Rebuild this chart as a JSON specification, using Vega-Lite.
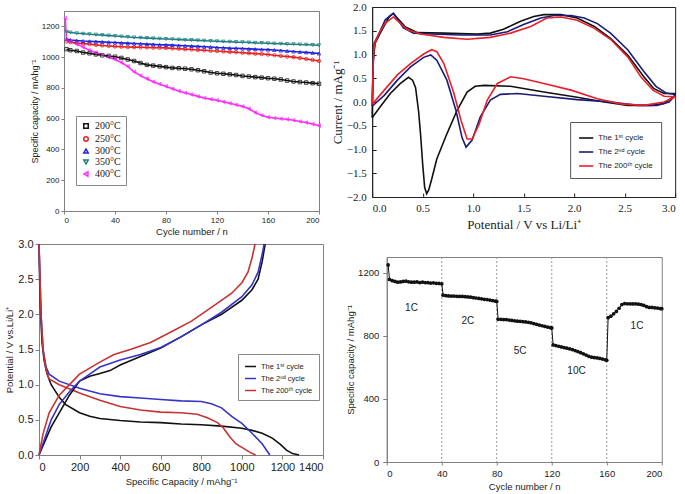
{
"$schema": "https://vega.github.io/schema/vega-lite/v6.json",
"background": "white",
"padding": {"left": 3, "top": 0, "right": 0, "bottom": 0},
"spacing": 6,
"resolve": {"scale": {"color": "independent", "shape": "independent"}, "legend": {"color": "independent", "shape": "independent"}},
"config": {
  "view": {"stroke": "#808080", "strokeWidth": 1},
  "axis": {"grid": false, "domainColor": "#808080", "tickColor": "#808080", "labelColor": "#222222", "titleColor": "#222222", "titleFontWeight": "normal", "labelFont": "Liberation Sans", "titleFont": "Liberation Sans"},
  "legend": {"labelFont": "Liberation Sans", "labelColor": "#222222"}
},
"hconcat": [
 {"spacing": 1, "resolve": {"scale": {"color": "independent", "shape": "independent"}, "legend": {"color": "independent", "shape": "independent"}}, "vconcat": [
  {"width": 1, "height": 2, "data": {"values": [{"k": 0}]}, "mark": {"type": "rect", "opacity": 0}, "encoding": {}, "view": {"stroke": null}},
  {"spacing": 0, "resolve": {"scale": {"color": "independent", "shape": "independent"}, "legend": {"color": "independent", "shape": "independent"}}, "hconcat": [
   {"width": 26, "height": 1, "data": {"values": [{"k": 0}]}, "mark": {"type": "rect", "opacity": 0}, "encoding": {}, "view": {"stroke": null}},
   {"width": 255, "height": 200,
    "data": {"values": [
{"s":"400°C","c":1,"v":1255},
{"s":"200°C","c":2,"v":1052},{"s":"200°C","c":5,"v":1045},{"s":"200°C","c":10,"v":1040},{"s":"200°C","c":15,"v":1030},{"s":"200°C","c":20,"v":1025},{"s":"200°C","c":25,"v":1018},{"s":"200°C","c":30,"v":1012},{"s":"200°C","c":35,"v":1008},{"s":"200°C","c":40,"v":1003},{"s":"200°C","c":45,"v":995},{"s":"200°C","c":50,"v":985},{"s":"200°C","c":55,"v":975},{"s":"200°C","c":60,"v":962},{"s":"200°C","c":65,"v":950},{"s":"200°C","c":70,"v":945},{"s":"200°C","c":75,"v":940},{"s":"200°C","c":80,"v":935},{"s":"200°C","c":85,"v":930},{"s":"200°C","c":90,"v":928},{"s":"200°C","c":95,"v":925},{"s":"200°C","c":100,"v":921},{"s":"200°C","c":105,"v":915},{"s":"200°C","c":110,"v":908},{"s":"200°C","c":115,"v":900},{"s":"200°C","c":120,"v":895},{"s":"200°C","c":125,"v":892},{"s":"200°C","c":130,"v":888},{"s":"200°C","c":135,"v":884},{"s":"200°C","c":140,"v":878},{"s":"200°C","c":145,"v":874},{"s":"200°C","c":150,"v":870},{"s":"200°C","c":155,"v":867},{"s":"200°C","c":160,"v":863},{"s":"200°C","c":165,"v":860},{"s":"200°C","c":170,"v":855},{"s":"200°C","c":175,"v":848},{"s":"200°C","c":180,"v":842},{"s":"200°C","c":185,"v":838},{"s":"200°C","c":190,"v":835},{"s":"200°C","c":195,"v":831},{"s":"200°C","c":200,"v":827},
{"s":"250°C","c":2,"v":1102},{"s":"250°C","c":5,"v":1098},{"s":"250°C","c":10,"v":1092},{"s":"250°C","c":15,"v":1088},{"s":"250°C","c":20,"v":1085},{"s":"250°C","c":25,"v":1080},{"s":"250°C","c":30,"v":1076},{"s":"250°C","c":35,"v":1073},{"s":"250°C","c":40,"v":1070},{"s":"250°C","c":45,"v":1068},{"s":"250°C","c":50,"v":1066},{"s":"250°C","c":55,"v":1065},{"s":"250°C","c":60,"v":1064},{"s":"250°C","c":65,"v":1063},{"s":"250°C","c":70,"v":1062},{"s":"250°C","c":75,"v":1061},{"s":"250°C","c":80,"v":1060},{"s":"250°C","c":85,"v":1057},{"s":"250°C","c":90,"v":1055},{"s":"250°C","c":95,"v":1052},{"s":"250°C","c":100,"v":1050},{"s":"250°C","c":105,"v":1047},{"s":"250°C","c":110,"v":1045},{"s":"250°C","c":115,"v":1042},{"s":"250°C","c":120,"v":1040},{"s":"250°C","c":125,"v":1037},{"s":"250°C","c":130,"v":1034},{"s":"250°C","c":135,"v":1032},{"s":"250°C","c":140,"v":1029},{"s":"250°C","c":145,"v":1026},{"s":"250°C","c":150,"v":1023},{"s":"250°C","c":155,"v":1020},{"s":"250°C","c":160,"v":1017},{"s":"250°C","c":165,"v":1012},{"s":"250°C","c":170,"v":1008},{"s":"250°C","c":175,"v":1004},{"s":"250°C","c":180,"v":1000},{"s":"250°C","c":185,"v":994},{"s":"250°C","c":190,"v":988},{"s":"250°C","c":195,"v":982},{"s":"250°C","c":200,"v":975},
{"s":"300°C","c":2,"v":1117},{"s":"300°C","c":5,"v":1112},{"s":"300°C","c":10,"v":1108},{"s":"300°C","c":15,"v":1105},{"s":"300°C","c":20,"v":1103},{"s":"300°C","c":25,"v":1101},{"s":"300°C","c":30,"v":1099},{"s":"300°C","c":35,"v":1097},{"s":"300°C","c":40,"v":1095},{"s":"300°C","c":45,"v":1093},{"s":"300°C","c":50,"v":1091},{"s":"300°C","c":55,"v":1089},{"s":"300°C","c":60,"v":1087},{"s":"300°C","c":65,"v":1085},{"s":"300°C","c":70,"v":1083},{"s":"300°C","c":75,"v":1081},{"s":"300°C","c":80,"v":1080},{"s":"300°C","c":85,"v":1078},{"s":"300°C","c":90,"v":1076},{"s":"300°C","c":95,"v":1074},{"s":"300°C","c":100,"v":1072},{"s":"300°C","c":105,"v":1070},{"s":"300°C","c":110,"v":1068},{"s":"300°C","c":115,"v":1066},{"s":"300°C","c":120,"v":1063},{"s":"300°C","c":125,"v":1061},{"s":"300°C","c":130,"v":1059},{"s":"300°C","c":135,"v":1058},{"s":"300°C","c":140,"v":1056},{"s":"300°C","c":145,"v":1054},{"s":"300°C","c":150,"v":1052},{"s":"300°C","c":155,"v":1050},{"s":"300°C","c":160,"v":1049},{"s":"300°C","c":165,"v":1046},{"s":"300°C","c":170,"v":1043},{"s":"300°C","c":175,"v":1040},{"s":"300°C","c":180,"v":1037},{"s":"300°C","c":185,"v":1034},{"s":"300°C","c":190,"v":1031},{"s":"300°C","c":195,"v":1028},{"s":"300°C","c":200,"v":1024},
{"s":"350°C","c":2,"v":1165},{"s":"350°C","c":5,"v":1160},{"s":"350°C","c":10,"v":1155},{"s":"350°C","c":15,"v":1152},{"s":"350°C","c":20,"v":1149},{"s":"350°C","c":25,"v":1146},{"s":"350°C","c":30,"v":1143},{"s":"350°C","c":35,"v":1140},{"s":"350°C","c":40,"v":1137},{"s":"350°C","c":45,"v":1134},{"s":"350°C","c":50,"v":1131},{"s":"350°C","c":55,"v":1128},{"s":"350°C","c":60,"v":1126},{"s":"350°C","c":65,"v":1124},{"s":"350°C","c":70,"v":1122},{"s":"350°C","c":75,"v":1120},{"s":"350°C","c":80,"v":1118},{"s":"350°C","c":85,"v":1116},{"s":"350°C","c":90,"v":1114},{"s":"350°C","c":95,"v":1112},{"s":"350°C","c":100,"v":1111},{"s":"350°C","c":105,"v":1109},{"s":"350°C","c":110,"v":1107},{"s":"350°C","c":115,"v":1105},{"s":"350°C","c":120,"v":1103},{"s":"350°C","c":125,"v":1101},{"s":"350°C","c":130,"v":1100},{"s":"350°C","c":135,"v":1098},{"s":"350°C","c":140,"v":1097},{"s":"350°C","c":145,"v":1095},{"s":"350°C","c":150,"v":1093},{"s":"350°C","c":155,"v":1092},{"s":"350°C","c":160,"v":1090},{"s":"350°C","c":165,"v":1088},{"s":"350°C","c":170,"v":1087},{"s":"350°C","c":175,"v":1085},{"s":"350°C","c":180,"v":1084},{"s":"350°C","c":185,"v":1082},{"s":"350°C","c":190,"v":1081},{"s":"350°C","c":195,"v":1079},{"s":"350°C","c":200,"v":1077},
{"s":"400°C","c":2,"v":1112},{"s":"400°C","c":5,"v":1100},{"s":"400°C","c":10,"v":1085},{"s":"400°C","c":15,"v":1065},{"s":"400°C","c":20,"v":1045},{"s":"400°C","c":25,"v":1030},{"s":"400°C","c":30,"v":1015},{"s":"400°C","c":35,"v":1000},{"s":"400°C","c":40,"v":985},{"s":"400°C","c":45,"v":965},{"s":"400°C","c":50,"v":940},{"s":"400°C","c":55,"v":905},{"s":"400°C","c":60,"v":880},{"s":"400°C","c":65,"v":860},{"s":"400°C","c":70,"v":840},{"s":"400°C","c":75,"v":825},{"s":"400°C","c":80,"v":810},{"s":"400°C","c":85,"v":795},{"s":"400°C","c":90,"v":780},{"s":"400°C","c":95,"v":768},{"s":"400°C","c":100,"v":757},{"s":"400°C","c":105,"v":745},{"s":"400°C","c":110,"v":735},{"s":"400°C","c":115,"v":727},{"s":"400°C","c":120,"v":720},{"s":"400°C","c":125,"v":710},{"s":"400°C","c":130,"v":700},{"s":"400°C","c":135,"v":690},{"s":"400°C","c":140,"v":680},{"s":"400°C","c":145,"v":665},{"s":"400°C","c":150,"v":640},{"s":"400°C","c":155,"v":622},{"s":"400°C","c":160,"v":610},{"s":"400°C","c":165,"v":604},{"s":"400°C","c":170,"v":600},{"s":"400°C","c":175,"v":596},{"s":"400°C","c":180,"v":590},{"s":"400°C","c":185,"v":582},{"s":"400°C","c":190,"v":575},{"s":"400°C","c":195,"v":565},{"s":"400°C","c":200,"v":555}
    ]},
    "encoding": {
     "x": {"field": "c", "type": "quantitative", "scale": {"domain": [0, 200], "nice": false}, "axis": {"values": [0, 40, 80, 120, 160, 200], "format": "d", "title": "Cycle number / n", "labelFontSize": 8, "titleFontSize": 9.5, "tickSize": 3, "labelPadding": 2, "titlePadding": 2}},
     "y": {"field": "v", "type": "quantitative", "scale": {"domain": [0, 1300], "nice": false}, "axis": {"values": [0, 200, 400, 600, 800, 1000, 1200], "format": "d", "title": "Specific capacity / mAhg⁻¹", "labelFontSize": 8, "titleFontSize": 9, "tickSize": 3, "labelPadding": 2, "titlePadding": 2}},
     "color": {"field": "s", "type": "nominal", "scale": {"domain": ["200°C", "250°C", "300°C", "350°C", "400°C"], "range": ["#111111", "#e8201e", "#1e22e0", "#1e8080", "#ff2cff"]}, "legend": {"title": null, "orient": "none", "legendX": 12, "legendY": 105, "strokeColor": "#888888", "fillColor": "white", "padding": 5, "labelFont": "Liberation Serif", "labelFontSize": 10, "symbolSize": 20, "rowPadding": 1}}
    },
    "layer": [
     {"mark": {"type": "line", "strokeWidth": 1.6}},
     {"mark": {"type": "point", "filled": false, "size": 12, "strokeWidth": 0.8, "opacity": 1}, "encoding": {
       "shape": {"field": "s", "type": "nominal", "scale": {"domain": ["200°C", "250°C", "300°C", "350°C", "400°C"], "range": ["square", "circle", "triangle-up", "triangle-down", "triangle-left"]}, "legend": {"title": null, "orient": "none", "legendX": 12, "legendY": 105, "strokeColor": "#888888", "fillColor": "white", "padding": 5, "labelFont": "Liberation Serif", "labelFontSize": 10, "symbolSize": 20, "rowPadding": 1}}
     }}
    ]
   }
  ]},
  {"spacing": 0, "resolve": {"scale": {"color": "independent"}, "legend": {"color": "independent"}}, "hconcat": [
   {"width": 1, "height": 1, "data": {"values": [{"k": 0}]}, "mark": {"type": "rect", "opacity": 0}, "encoding": {}, "view": {"stroke": null}},
   {"width": 284, "height": 211,
   "data": {"values": [
{"k":"The 1ˢᵗ cycle","b":"d","q":0,"v":3.0},{"k":"The 1ˢᵗ cycle","b":"d","q":3,"v":2.5},{"k":"The 1ˢᵗ cycle","b":"d","q":8,"v":2.0},{"k":"The 1ˢᵗ cycle","b":"d","q":15,"v":1.6},{"k":"The 1ˢᵗ cycle","b":"d","q":25,"v":1.35},{"k":"The 1ˢᵗ cycle","b":"d","q":40,"v":1.15},{"k":"The 1ˢᵗ cycle","b":"d","q":60,"v":1.0},{"k":"The 1ˢᵗ cycle","b":"d","q":100,"v":0.82},{"k":"The 1ˢᵗ cycle","b":"d","q":130,"v":0.72},{"k":"The 1ˢᵗ cycle","b":"d","q":200,"v":0.6},{"k":"The 1ˢᵗ cycle","b":"d","q":250,"v":0.55},{"k":"The 1ˢᵗ cycle","b":"d","q":300,"v":0.52},{"k":"The 1ˢᵗ cycle","b":"d","q":400,"v":0.49},{"k":"The 1ˢᵗ cycle","b":"d","q":500,"v":0.47},{"k":"The 1ˢᵗ cycle","b":"d","q":600,"v":0.46},{"k":"The 1ˢᵗ cycle","b":"d","q":700,"v":0.44},{"k":"The 1ˢᵗ cycle","b":"d","q":800,"v":0.43},{"k":"The 1ˢᵗ cycle","b":"d","q":900,"v":0.41},{"k":"The 1ˢᵗ cycle","b":"d","q":1000,"v":0.38},{"k":"The 1ˢᵗ cycle","b":"d","q":1050,"v":0.35},{"k":"The 1ˢᵗ cycle","b":"d","q":1100,"v":0.31},{"k":"The 1ˢᵗ cycle","b":"d","q":1150,"v":0.24},{"k":"The 1ˢᵗ cycle","b":"d","q":1190,"v":0.15},{"k":"The 1ˢᵗ cycle","b":"d","q":1220,"v":0.07},{"k":"The 1ˢᵗ cycle","b":"d","q":1250,"v":0.02},{"k":"The 1ˢᵗ cycle","b":"d","q":1282,"v":0.0},
{"k":"The 2ⁿᵈ cycle","b":"d","q":0,"v":3.0},{"k":"The 2ⁿᵈ cycle","b":"d","q":5,"v":2.5},{"k":"The 2ⁿᵈ cycle","b":"d","q":10,"v":2.0},{"k":"The 2ⁿᵈ cycle","b":"d","q":20,"v":1.5},{"k":"The 2ⁿᵈ cycle","b":"d","q":35,"v":1.25},{"k":"The 2ⁿᵈ cycle","b":"d","q":50,"v":1.15},{"k":"The 2ⁿᵈ cycle","b":"d","q":100,"v":1.05},{"k":"The 2ⁿᵈ cycle","b":"d","q":200,"v":0.95},{"k":"The 2ⁿᵈ cycle","b":"d","q":300,"v":0.87},{"k":"The 2ⁿᵈ cycle","b":"d","q":400,"v":0.83},{"k":"The 2ⁿᵈ cycle","b":"d","q":500,"v":0.81},{"k":"The 2ⁿᵈ cycle","b":"d","q":600,"v":0.79},{"k":"The 2ⁿᵈ cycle","b":"d","q":700,"v":0.77},{"k":"The 2ⁿᵈ cycle","b":"d","q":800,"v":0.76},{"k":"The 2ⁿᵈ cycle","b":"d","q":850,"v":0.73},{"k":"The 2ⁿᵈ cycle","b":"d","q":900,"v":0.67},{"k":"The 2ⁿᵈ cycle","b":"d","q":950,"v":0.55},{"k":"The 2ⁿᵈ cycle","b":"d","q":1000,"v":0.45},{"k":"The 2ⁿᵈ cycle","b":"d","q":1050,"v":0.31},{"k":"The 2ⁿᵈ cycle","b":"d","q":1100,"v":0.16},{"k":"The 2ⁿᵈ cycle","b":"d","q":1138,"v":0.0},
{"k":"The 200ᵗʰ cycle","b":"d","q":0,"v":3.0},{"k":"The 200ᵗʰ cycle","b":"d","q":5,"v":2.5},{"k":"The 200ᵗʰ cycle","b":"d","q":10,"v":2.0},{"k":"The 200ᵗʰ cycle","b":"d","q":20,"v":1.5},{"k":"The 200ᵗʰ cycle","b":"d","q":35,"v":1.2},{"k":"The 200ᵗʰ cycle","b":"d","q":50,"v":1.08},{"k":"The 200ᵗʰ cycle","b":"d","q":100,"v":1.0},{"k":"The 200ᵗʰ cycle","b":"d","q":200,"v":0.88},{"k":"The 200ᵗʰ cycle","b":"d","q":300,"v":0.78},{"k":"The 200ᵗʰ cycle","b":"d","q":400,"v":0.69},{"k":"The 200ᵗʰ cycle","b":"d","q":500,"v":0.64},{"k":"The 200ᵗʰ cycle","b":"d","q":600,"v":0.61},{"k":"The 200ᵗʰ cycle","b":"d","q":700,"v":0.6},{"k":"The 200ᵗʰ cycle","b":"d","q":780,"v":0.58},{"k":"The 200ᵗʰ cycle","b":"d","q":830,"v":0.53},{"k":"The 200ᵗʰ cycle","b":"d","q":880,"v":0.46},{"k":"The 200ᵗʰ cycle","b":"d","q":910,"v":0.38},{"k":"The 200ᵗʰ cycle","b":"d","q":940,"v":0.26},{"k":"The 200ᵗʰ cycle","b":"d","q":970,"v":0.16},{"k":"The 200ᵗʰ cycle","b":"d","q":1010,"v":0.09},{"k":"The 200ᵗʰ cycle","b":"d","q":1045,"v":0.03},{"k":"The 200ᵗʰ cycle","b":"d","q":1068,"v":0.0},
{"k":"The 1ˢᵗ cycle","b":"c","q":0,"v":0.0},{"k":"The 1ˢᵗ cycle","b":"c","q":30,"v":0.2},{"k":"The 1ˢᵗ cycle","b":"c","q":60,"v":0.4},{"k":"The 1ˢᵗ cycle","b":"c","q":100,"v":0.6},{"k":"The 1ˢᵗ cycle","b":"c","q":150,"v":0.85},{"k":"The 1ˢᵗ cycle","b":"c","q":200,"v":1.05},{"k":"The 1ˢᵗ cycle","b":"c","q":250,"v":1.12},{"k":"The 1ˢᵗ cycle","b":"c","q":300,"v":1.16},{"k":"The 1ˢᵗ cycle","b":"c","q":350,"v":1.2},{"k":"The 1ˢᵗ cycle","b":"c","q":400,"v":1.28},{"k":"The 1ˢᵗ cycle","b":"c","q":500,"v":1.4},{"k":"The 1ˢᵗ cycle","b":"c","q":600,"v":1.52},{"k":"The 1ˢᵗ cycle","b":"c","q":700,"v":1.68},{"k":"The 1ˢᵗ cycle","b":"c","q":800,"v":1.85},{"k":"The 1ˢᵗ cycle","b":"c","q":900,"v":2.0},{"k":"The 1ˢᵗ cycle","b":"c","q":1000,"v":2.2},{"k":"The 1ˢᵗ cycle","b":"c","q":1050,"v":2.35},{"k":"The 1ˢᵗ cycle","b":"c","q":1080,"v":2.5},{"k":"The 1ˢᵗ cycle","b":"c","q":1100,"v":2.75},{"k":"The 1ˢᵗ cycle","b":"c","q":1115,"v":3.0},
{"k":"The 2ⁿᵈ cycle","b":"c","q":0,"v":0.0},{"k":"The 2ⁿᵈ cycle","b":"c","q":30,"v":0.25},{"k":"The 2ⁿᵈ cycle","b":"c","q":60,"v":0.5},{"k":"The 2ⁿᵈ cycle","b":"c","q":100,"v":0.72},{"k":"The 2ⁿᵈ cycle","b":"c","q":150,"v":0.9},{"k":"The 2ⁿᵈ cycle","b":"c","q":200,"v":1.05},{"k":"The 2ⁿᵈ cycle","b":"c","q":250,"v":1.15},{"k":"The 2ⁿᵈ cycle","b":"c","q":300,"v":1.25},{"k":"The 2ⁿᵈ cycle","b":"c","q":400,"v":1.35},{"k":"The 2ⁿᵈ cycle","b":"c","q":500,"v":1.43},{"k":"The 2ⁿᵈ cycle","b":"c","q":600,"v":1.53},{"k":"The 2ⁿᵈ cycle","b":"c","q":700,"v":1.68},{"k":"The 2ⁿᵈ cycle","b":"c","q":800,"v":1.85},{"k":"The 2ⁿᵈ cycle","b":"c","q":900,"v":2.03},{"k":"The 2ⁿᵈ cycle","b":"c","q":1000,"v":2.25},{"k":"The 2ⁿᵈ cycle","b":"c","q":1050,"v":2.42},{"k":"The 2ⁿᵈ cycle","b":"c","q":1080,"v":2.6},{"k":"The 2ⁿᵈ cycle","b":"c","q":1100,"v":2.85},{"k":"The 2ⁿᵈ cycle","b":"c","q":1110,"v":3.0},
{"k":"The 200ᵗʰ cycle","b":"c","q":0,"v":0.0},{"k":"The 200ᵗʰ cycle","b":"c","q":20,"v":0.3},{"k":"The 200ᵗʰ cycle","b":"c","q":50,"v":0.6},{"k":"The 200ᵗʰ cycle","b":"c","q":100,"v":0.85},{"k":"The 200ᵗʰ cycle","b":"c","q":150,"v":1.0},{"k":"The 200ᵗʰ cycle","b":"c","q":200,"v":1.15},{"k":"The 200ᵗʰ cycle","b":"c","q":300,"v":1.32},{"k":"The 200ᵗʰ cycle","b":"c","q":370,"v":1.43},{"k":"The 200ᵗʰ cycle","b":"c","q":450,"v":1.5},{"k":"The 200ᵗʰ cycle","b":"c","q":550,"v":1.6},{"k":"The 200ᵗʰ cycle","b":"c","q":650,"v":1.75},{"k":"The 200ᵗʰ cycle","b":"c","q":750,"v":1.9},{"k":"The 200ᵗʰ cycle","b":"c","q":850,"v":2.1},{"k":"The 200ᵗʰ cycle","b":"c","q":950,"v":2.3},{"k":"The 200ᵗʰ cycle","b":"c","q":1000,"v":2.45},{"k":"The 200ᵗʰ cycle","b":"c","q":1030,"v":2.6},{"k":"The 200ᵗʰ cycle","b":"c","q":1050,"v":2.8},{"k":"The 200ᵗʰ cycle","b":"c","q":1065,"v":3.0}
   ]},
   "mark": {"type": "line", "strokeWidth": 1.6},
   "encoding": {
    "x": {"field": "q", "type": "quantitative", "scale": {"domain": [0, 1400], "nice": false}, "axis": {"values": [0, 200, 400, 600, 800, 1000, 1200, 1400], "format": "d", "title": "Specific Capacity / mAhg⁻¹", "labelFontSize": 11, "titleFontSize": 9.5, "tickSize": 4, "labelPadding": 2, "titlePadding": 4}},
    "y": {"field": "v", "type": "quantitative", "scale": {"domain": [0, 3], "nice": false}, "axis": {"values": [0, 0.5, 1, 1.5, 2, 2.5, 3], "format": ".1f", "title": "Potential / V vs.Li/Li⁺", "labelFontSize": 11, "titleFontSize": 9.5, "tickSize": 4, "labelPadding": 2, "titlePadding": 3}},
    "color": {"field": "k", "type": "nominal", "scale": {"domain": ["The 1ˢᵗ cycle", "The 2ⁿᵈ cycle", "The 200ᵗʰ cycle"], "range": ["#111111", "#3535c8", "#c83232"]}, "legend": {"title": null, "orient": "none", "legendX": 199, "legendY": 110, "strokeColor": "#888888", "fillColor": "white", "padding": 6, "labelFontSize": 7.5, "symbolType": "stroke", "symbolStrokeWidth": 1.5, "symbolSize": 120, "rowPadding": 2}},
    "detail": {"field": "b"},
    "order": {"field": "q", "type": "quantitative"}
   }
  }
  ]}
 ]},
 {"spacing": 24, "center": true, "resolve": {"scale": {"color": "independent"}, "legend": {"color": "independent"}}, "vconcat": [
  {"width": 303, "height": 190,
   "view": {"stroke": "#222222"},
   "data": {"values": [
{"k":"The 1ˢᵗ cycle","i":0,"p":0.0,"c":-0.33},{"k":"The 1ˢᵗ cycle","i":1,"p":0.08,"c":-0.1},{"k":"The 1ˢᵗ cycle","i":2,"p":0.18,"c":0.18},{"k":"The 1ˢᵗ cycle","i":3,"p":0.28,"c":0.39},{"k":"The 1ˢᵗ cycle","i":4,"p":0.36,"c":0.52},{"k":"The 1ˢᵗ cycle","i":5,"p":0.4,"c":0.46},{"k":"The 1ˢᵗ cycle","i":6,"p":0.43,"c":0.3},{"k":"The 1ˢᵗ cycle","i":7,"p":0.46,"c":-0.2},{"k":"The 1ˢᵗ cycle","i":8,"p":0.48,"c":-0.7},{"k":"The 1ˢᵗ cycle","i":9,"p":0.5,"c":-1.3},{"k":"The 1ˢᵗ cycle","i":10,"p":0.52,"c":-1.8},{"k":"The 1ˢᵗ cycle","i":11,"p":0.54,"c":-1.93},{"k":"The 1ˢᵗ cycle","i":12,"p":0.56,"c":-1.85},{"k":"The 1ˢᵗ cycle","i":13,"p":0.59,"c":-1.62},{"k":"The 1ˢᵗ cycle","i":14,"p":0.64,"c":-1.2},{"k":"The 1ˢᵗ cycle","i":15,"p":0.74,"c":-0.67},{"k":"The 1ˢᵗ cycle","i":16,"p":0.84,"c":-0.18},{"k":"The 1ˢᵗ cycle","i":17,"p":0.94,"c":0.21},{"k":"The 1ˢᵗ cycle","i":18,"p":1.02,"c":0.33},{"k":"The 1ˢᵗ cycle","i":19,"p":1.11,"c":0.35},{"k":"The 1ˢᵗ cycle","i":20,"p":1.37,"c":0.33},{"k":"The 1ˢᵗ cycle","i":21,"p":1.7,"c":0.21},{"k":"The 1ˢᵗ cycle","i":22,"p":2.03,"c":0.1},{"k":"The 1ˢᵗ cycle","i":23,"p":2.3,"c":0.0},{"k":"The 1ˢᵗ cycle","i":24,"p":2.53,"c":-0.07},{"k":"The 1ˢᵗ cycle","i":25,"p":2.76,"c":-0.07},{"k":"The 1ˢᵗ cycle","i":26,"p":2.89,"c":-0.03},{"k":"The 1ˢᵗ cycle","i":27,"p":3.0,"c":0.14},{"k":"The 1ˢᵗ cycle","i":28,"p":3.0,"c":0.18},{"k":"The 1ˢᵗ cycle","i":29,"p":2.89,"c":0.18},{"k":"The 1ˢᵗ cycle","i":30,"p":2.79,"c":0.28},{"k":"The 1ˢᵗ cycle","i":31,"p":2.69,"c":0.53},{"k":"The 1ˢᵗ cycle","i":32,"p":2.53,"c":0.99},{"k":"The 1ˢᵗ cycle","i":33,"p":2.36,"c":1.34},{"k":"The 1ˢᵗ cycle","i":34,"p":2.2,"c":1.59},{"k":"The 1ˢᵗ cycle","i":35,"p":2.03,"c":1.77},{"k":"The 1ˢᵗ cycle","i":36,"p":1.87,"c":1.84},{"k":"The 1ˢᵗ cycle","i":37,"p":1.7,"c":1.84},{"k":"The 1ˢᵗ cycle","i":38,"p":1.6,"c":1.8},{"k":"The 1ˢᵗ cycle","i":39,"p":1.47,"c":1.7},{"k":"The 1ˢᵗ cycle","i":40,"p":1.3,"c":1.53},{"k":"The 1ˢᵗ cycle","i":41,"p":1.17,"c":1.45},{"k":"The 1ˢᵗ cycle","i":42,"p":1.04,"c":1.43},{"k":"The 1ˢᵗ cycle","i":43,"p":0.71,"c":1.45},{"k":"The 1ˢᵗ cycle","i":44,"p":0.45,"c":1.46},{"k":"The 1ˢᵗ cycle","i":45,"p":0.33,"c":1.58},{"k":"The 1ˢᵗ cycle","i":46,"p":0.21,"c":1.86},{"k":"The 1ˢᵗ cycle","i":47,"p":0.17,"c":1.8},{"k":"The 1ˢᵗ cycle","i":48,"p":0.08,"c":1.45},{"k":"The 1ˢᵗ cycle","i":49,"p":0.03,"c":1.24},{"k":"The 1ˢᵗ cycle","i":50,"p":0.01,"c":0.88},{"k":"The 1ˢᵗ cycle","i":51,"p":0.0,"c":-0.33},
{"k":"The 2ⁿᵈ cycle","i":0,"p":0.0,"c":-0.09},{"k":"The 2ⁿᵈ cycle","i":1,"p":0.12,"c":0.14},{"k":"The 2ⁿᵈ cycle","i":2,"p":0.25,"c":0.46},{"k":"The 2ⁿᵈ cycle","i":3,"p":0.38,"c":0.74},{"k":"The 2ⁿᵈ cycle","i":4,"p":0.51,"c":0.94},{"k":"The 2ⁿᵈ cycle","i":5,"p":0.58,"c":0.99},{"k":"The 2ⁿᵈ cycle","i":6,"p":0.64,"c":0.88},{"k":"The 2ⁿᵈ cycle","i":7,"p":0.74,"c":0.46},{"k":"The 2ⁿᵈ cycle","i":8,"p":0.83,"c":-0.18},{"k":"The 2ⁿᵈ cycle","i":9,"p":0.89,"c":-0.75},{"k":"The 2ⁿᵈ cycle","i":10,"p":0.93,"c":-0.95},{"k":"The 2ⁿᵈ cycle","i":11,"p":0.99,"c":-0.8},{"k":"The 2ⁿᵈ cycle","i":12,"p":1.07,"c":-0.32},{"k":"The 2ⁿᵈ cycle","i":13,"p":1.17,"c":0.04},{"k":"The 2ⁿᵈ cycle","i":14,"p":1.27,"c":0.16},{"k":"The 2ⁿᵈ cycle","i":15,"p":1.44,"c":0.18},{"k":"The 2ⁿᵈ cycle","i":16,"p":1.7,"c":0.12},{"k":"The 2ⁿᵈ cycle","i":17,"p":2.03,"c":0.05},{"k":"The 2ⁿᵈ cycle","i":18,"p":2.36,"c":0.0},{"k":"The 2ⁿᵈ cycle","i":19,"p":2.63,"c":-0.07},{"k":"The 2ⁿᵈ cycle","i":20,"p":2.82,"c":-0.07},{"k":"The 2ⁿᵈ cycle","i":21,"p":2.94,"c":0.0},{"k":"The 2ⁿᵈ cycle","i":22,"p":3.0,"c":0.14},{"k":"The 2ⁿᵈ cycle","i":23,"p":3.0,"c":0.16},{"k":"The 2ⁿᵈ cycle","i":24,"p":2.91,"c":0.19},{"k":"The 2ⁿᵈ cycle","i":25,"p":2.81,"c":0.33},{"k":"The 2ⁿᵈ cycle","i":26,"p":2.69,"c":0.64},{"k":"The 2ⁿᵈ cycle","i":27,"p":2.53,"c":1.1},{"k":"The 2ⁿᵈ cycle","i":28,"p":2.36,"c":1.45},{"k":"The 2ⁿᵈ cycle","i":29,"p":2.23,"c":1.65},{"k":"The 2ⁿᵈ cycle","i":30,"p":2.1,"c":1.77},{"k":"The 2ⁿᵈ cycle","i":31,"p":1.97,"c":1.82},{"k":"The 2ⁿᵈ cycle","i":32,"p":1.8,"c":1.82},{"k":"The 2ⁿᵈ cycle","i":33,"p":1.67,"c":1.77},{"k":"The 2ⁿᵈ cycle","i":34,"p":1.5,"c":1.63},{"k":"The 2ⁿᵈ cycle","i":35,"p":1.34,"c":1.48},{"k":"The 2ⁿᵈ cycle","i":36,"p":1.17,"c":1.41},{"k":"The 2ⁿᵈ cycle","i":37,"p":0.88,"c":1.41},{"k":"The 2ⁿᵈ cycle","i":38,"p":0.58,"c":1.43},{"k":"The 2ⁿᵈ cycle","i":39,"p":0.41,"c":1.45},{"k":"The 2ⁿᵈ cycle","i":40,"p":0.31,"c":1.56},{"k":"The 2ⁿᵈ cycle","i":41,"p":0.21,"c":1.87},{"k":"The 2ⁿᵈ cycle","i":42,"p":0.13,"c":1.73},{"k":"The 2ⁿᵈ cycle","i":43,"p":0.07,"c":1.45},{"k":"The 2ⁿᵈ cycle","i":44,"p":0.02,"c":1.24},{"k":"The 2ⁿᵈ cycle","i":45,"p":0.01,"c":0.81},{"k":"The 2ⁿᵈ cycle","i":46,"p":0.0,"c":-0.09},
{"k":"The 200ᵗʰ cycle","i":0,"p":0.0,"c":-0.05},{"k":"The 200ᵗʰ cycle","i":1,"p":0.12,"c":0.25},{"k":"The 200ᵗʰ cycle","i":2,"p":0.25,"c":0.57},{"k":"The 200ᵗʰ cycle","i":3,"p":0.38,"c":0.81},{"k":"The 200ᵗʰ cycle","i":4,"p":0.51,"c":1.01},{"k":"The 200ᵗʰ cycle","i":5,"p":0.59,"c":1.1},{"k":"The 200ᵗʰ cycle","i":6,"p":0.64,"c":1.06},{"k":"The 200ᵗʰ cycle","i":7,"p":0.71,"c":0.81},{"k":"The 200ᵗʰ cycle","i":8,"p":0.81,"c":0.18},{"k":"The 200ᵗʰ cycle","i":9,"p":0.88,"c":-0.39},{"k":"The 200ᵗʰ cycle","i":10,"p":0.94,"c":-0.78},{"k":"The 200ᵗʰ cycle","i":11,"p":0.99,"c":-0.78},{"k":"The 200ᵗʰ cycle","i":12,"p":1.06,"c":-0.46},{"k":"The 200ᵗʰ cycle","i":13,"p":1.14,"c":0.04},{"k":"The 200ᵗʰ cycle","i":14,"p":1.24,"c":0.39},{"k":"The 200ᵗʰ cycle","i":15,"p":1.37,"c":0.53},{"k":"The 200ᵗʰ cycle","i":16,"p":1.5,"c":0.49},{"k":"The 200ᵗʰ cycle","i":17,"p":1.7,"c":0.39},{"k":"The 200ᵗʰ cycle","i":18,"p":1.97,"c":0.25},{"k":"The 200ᵗʰ cycle","i":19,"p":2.23,"c":0.07},{"k":"The 200ᵗʰ cycle","i":20,"p":2.46,"c":-0.04},{"k":"The 200ᵗʰ cycle","i":21,"p":2.69,"c":-0.07},{"k":"The 200ᵗʰ cycle","i":22,"p":2.89,"c":0.0},{"k":"The 200ᵗʰ cycle","i":23,"p":3.0,"c":0.11},{"k":"The 200ᵗʰ cycle","i":24,"p":2.89,"c":0.12},{"k":"The 200ᵗʰ cycle","i":25,"p":2.78,"c":0.25},{"k":"The 200ᵗʰ cycle","i":26,"p":2.66,"c":0.53},{"k":"The 200ᵗʰ cycle","i":27,"p":2.53,"c":0.95},{"k":"The 200ᵗʰ cycle","i":28,"p":2.36,"c":1.32},{"k":"The 200ᵗʰ cycle","i":29,"p":2.2,"c":1.55},{"k":"The 200ᵗʰ cycle","i":30,"p":2.03,"c":1.72},{"k":"The 200ᵗʰ cycle","i":31,"p":1.87,"c":1.79},{"k":"The 200ᵗʰ cycle","i":32,"p":1.73,"c":1.77},{"k":"The 200ᵗʰ cycle","i":33,"p":1.57,"c":1.59},{"k":"The 200ᵗʰ cycle","i":34,"p":1.37,"c":1.45},{"k":"The 200ᵗʰ cycle","i":35,"p":1.17,"c":1.36},{"k":"The 200ᵗʰ cycle","i":36,"p":0.94,"c":1.32},{"k":"The 200ᵗʰ cycle","i":37,"p":0.71,"c":1.36},{"k":"The 200ᵗʰ cycle","i":38,"p":0.48,"c":1.43},{"k":"The 200ᵗʰ cycle","i":39,"p":0.35,"c":1.52},{"k":"The 200ᵗʰ cycle","i":40,"p":0.21,"c":1.79},{"k":"The 200ᵗʰ cycle","i":41,"p":0.13,"c":1.66},{"k":"The 200ᵗʰ cycle","i":42,"p":0.07,"c":1.45},{"k":"The 200ᵗʰ cycle","i":43,"p":0.02,"c":1.2},{"k":"The 200ᵗʰ cycle","i":44,"p":0.01,"c":0.74},{"k":"The 200ᵗʰ cycle","i":45,"p":0.0,"c":-0.05}
   ]},
   "mark": {"type": "line", "strokeWidth": 1.6},
   "encoding": {
    "x": {"field": "p", "type": "quantitative", "scale": {"domain": [0, 3], "nice": false}, "axis": {"values": [0, 0.5, 1, 1.5, 2, 2.5, 3], "format": ".1f", "title": "Potential / V vs Li/Li⁺", "labelFont": "Liberation Serif", "titleFont": "Liberation Serif", "labelFontSize": 11, "titleFontSize": 13, "domainColor": "#222222", "tickColor": "#222222", "tickSize": -4, "labelPadding": 9, "titlePadding": 5}},
    "y": {"field": "c", "type": "quantitative", "scale": {"domain": [-2, 2], "nice": false}, "axis": {"values": [-2, -1.5, -1, -0.5, 0, 0.5, 1, 1.5, 2], "format": ".1f", "title": "Current / mAg⁻¹", "labelFont": "Liberation Serif", "titleFont": "Liberation Serif", "labelFontSize": 11, "titleFontSize": 13, "domainColor": "#222222", "tickColor": "#222222", "tickSize": -4, "labelPadding": 10, "titlePadding": 2}},
    "color": {"field": "k", "type": "nominal", "scale": {"domain": ["The 1ˢᵗ cycle", "The 2ⁿᵈ cycle", "The 200ᵗʰ cycle"], "range": ["#111111", "#1c1c78", "#e8202a"]}, "legend": {"title": null, "orient": "none", "legendX": 198, "legendY": 115, "strokeColor": "#555555", "fillColor": "white", "padding": 8, "labelFontSize": 8, "symbolType": "stroke", "symbolStrokeWidth": 1.6, "symbolSize": 200, "rowPadding": 2}},
    "order": {"field": "i", "type": "quantitative"}
   }
  },
  {"width": 275, "height": 205,
   "layer": [
    {"data": {"values": [{"x": 40}, {"x": 80}, {"x": 120}, {"x": 160}]},
     "mark": {"type": "rule", "color": "#999999", "strokeDash": [2, 2], "strokeWidth": 1},
     "encoding": {"x": {"field": "x", "type": "quantitative", "scale": {"domain": [0, 200], "nice": false}}}},
    {"data": {"values": [
{"c":1,"v":1250},{"c":2,"v":1158},{"c":4,"v":1150},{"c":6,"v":1145},{"c":8,"v":1140},{"c":10,"v":1142},{"c":12,"v":1145},{"c":14,"v":1147},{"c":16,"v":1143},{"c":18,"v":1140},{"c":20,"v":1140},{"c":22,"v":1142},{"c":24,"v":1138},{"c":26,"v":1140},{"c":28,"v":1138},{"c":30,"v":1137},{"c":32,"v":1135},{"c":34,"v":1136},{"c":36,"v":1133},{"c":38,"v":1132},{"c":40,"v":1130},
{"c":41,"v":1058},{"c":43,"v":1055},{"c":45,"v":1053},{"c":47,"v":1052},{"c":49,"v":1052},{"c":51,"v":1051},{"c":53,"v":1050},{"c":55,"v":1050},{"c":57,"v":1048},{"c":59,"v":1047},{"c":61,"v":1045},{"c":63,"v":1042},{"c":65,"v":1040},{"c":67,"v":1037},{"c":69,"v":1035},{"c":71,"v":1032},{"c":73,"v":1030},{"c":75,"v":1027},{"c":77,"v":1024},{"c":79,"v":1020},{"c":80,"v":1018},
{"c":81,"v":905},{"c":83,"v":905},{"c":85,"v":903},{"c":87,"v":903},{"c":89,"v":900},{"c":91,"v":898},{"c":93,"v":895},{"c":95,"v":893},{"c":97,"v":892},{"c":99,"v":890},{"c":101,"v":888},{"c":103,"v":886},{"c":105,"v":883},{"c":107,"v":878},{"c":109,"v":873},{"c":111,"v":868},{"c":113,"v":864},{"c":115,"v":860},{"c":117,"v":856},{"c":119,"v":852},{"c":120,"v":850},
{"c":121,"v":742},{"c":123,"v":738},{"c":125,"v":734},{"c":127,"v":730},{"c":129,"v":726},{"c":131,"v":722},{"c":133,"v":718},{"c":135,"v":713},{"c":137,"v":707},{"c":139,"v":700},{"c":141,"v":693},{"c":143,"v":686},{"c":145,"v":678},{"c":147,"v":670},{"c":149,"v":665},{"c":151,"v":662},{"c":153,"v":660},{"c":155,"v":657},{"c":157,"v":653},{"c":159,"v":648},{"c":160,"v":645},
{"c":161,"v":915},{"c":163,"v":925},{"c":165,"v":940},{"c":167,"v":955},{"c":169,"v":975},{"c":171,"v":998},{"c":173,"v":1005},{"c":175,"v":1003},{"c":177,"v":1003},{"c":179,"v":1002},{"c":181,"v":1003},{"c":183,"v":1001},{"c":185,"v":998},{"c":187,"v":993},{"c":189,"v":985},{"c":191,"v":980},{"c":193,"v":980},{"c":195,"v":978},{"c":197,"v":976},{"c":199,"v":973},{"c":200,"v":972}
     ]},
     "encoding": {
      "x": {"field": "c", "type": "quantitative", "scale": {"domain": [0, 200], "nice": false}, "axis": {"values": [0, 40, 80, 120, 160, 200], "format": "d", "title": "Cycle number / n", "labelFontSize": 9.5, "titleFontSize": 9.5, "tickSize": 3, "labelPadding": 3, "titlePadding": 4}},
      "y": {"field": "v", "type": "quantitative", "scale": {"domain": [0, 1300], "nice": false}, "axis": {"values": [0, 200, 400, 600, 800, 1000, 1200], "format": "d", "title": "Specific capacity / mAhg⁻¹", "labelFontSize": 9.5, "titleFontSize": 9.5, "tickSize": 4, "labelPadding": 4, "titlePadding": 2}}
     },
     "layer": [
      {"mark": {"type": "line", "color": "#111111", "strokeWidth": 1}},
      {"mark": {"type": "point", "filled": true, "color": "#111111", "size": 14, "opacity": 1}}
     ]},
    {"data": {"values": [{"t": "1C", "x": 18, "y": 977}, {"t": "2C", "x": 59, "y": 892}, {"t": "5C", "x": 97, "y": 705}, {"t": "10C", "x": 138, "y": 578}, {"t": "1C", "x": 182, "y": 864}]},
     "mark": {"type": "text", "font": "Liberation Sans", "fontSize": 10, "color": "#222222"},
     "encoding": {"x": {"field": "x", "type": "quantitative"}, "y": {"field": "y", "type": "quantitative"}, "text": {"field": "t"}}}
   ]
  }
 ]}
]
}
